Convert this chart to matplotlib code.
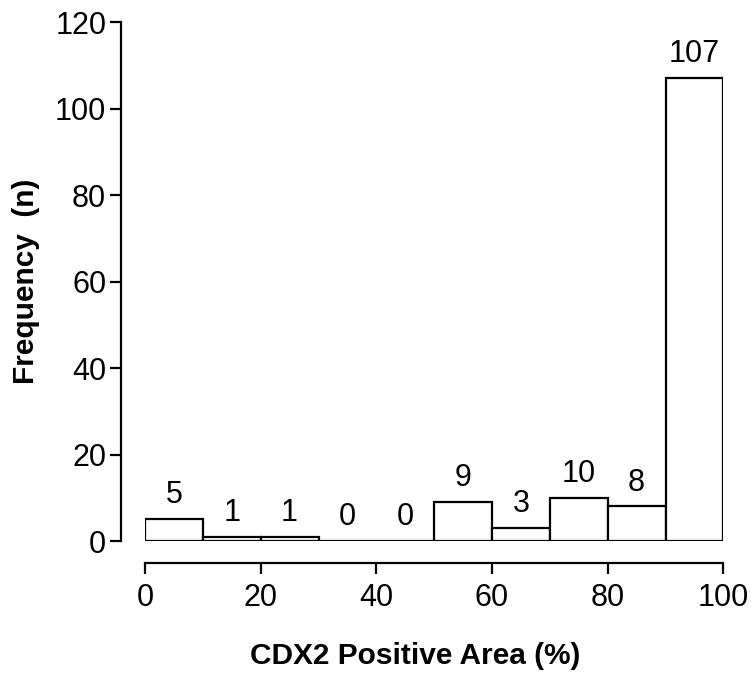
import matplotlib
matplotlib.use("Agg")
import matplotlib.pyplot as plt

plt.rcParams["font.family"] = ["Liberation Sans", "DejaVu Sans"]

# histogram bins (% positive area) and counts
bin_left = [0, 10, 20, 30, 40, 50, 60, 70, 80, 90]
counts = [5, 1, 1, 0, 0, 9, 3, 10, 8, 107]
bin_width = 10

x_ticks = [0, 20, 40, 60, 80, 100]
y_ticks = [0, 20, 40, 60, 80, 100, 120]

fig = plt.figure(figsize=(7.53, 6.73), dpi=100)
ax = fig.add_axes([0.1926, 0.196, 0.768, 0.771])

bars = ax.bar(bin_left, counts, width=bin_width, align="edge",
              color="white", edgecolor="black", linewidth=1.6)

for b, n in zip(bars, counts):
    ax.annotate(str(n), (b.get_x() + b.get_width() / 2, b.get_height()),
                xytext=(0, 11.5), textcoords="offset points",
                ha="center", va="baseline", fontsize=22)

ax.set_xlim(0, 100)
ax.set_ylim(0, 120)
ax.set_xticks(x_ticks)
ax.set_yticks(y_ticks)

ax.spines["top"].set_visible(False)
ax.spines["right"].set_visible(False)
ax.spines["left"].set_position(("outward", 17))
ax.spines["bottom"].set_position(("outward", 16))
for s in ("left", "bottom"):
    ax.spines[s].set_linewidth(1.6)

ax.tick_params(axis="both", labelsize=22, width=1.6, length=8, color="black")
ax.tick_params(axis="y", pad=3)
ax.tick_params(axis="x", pad=6)

ax.set_ylabel("Frequency  (n)", fontsize=21.5, fontweight="bold")
ax.set_xlabel("CDX2 Positive Area (%)", fontsize=21.5, fontweight="bold")
ax.yaxis.set_label_coords(-0.182, 0.5)
ax.xaxis.set_label_coords(0.467, -0.195)

fig.savefig("out.png", dpi=100)
